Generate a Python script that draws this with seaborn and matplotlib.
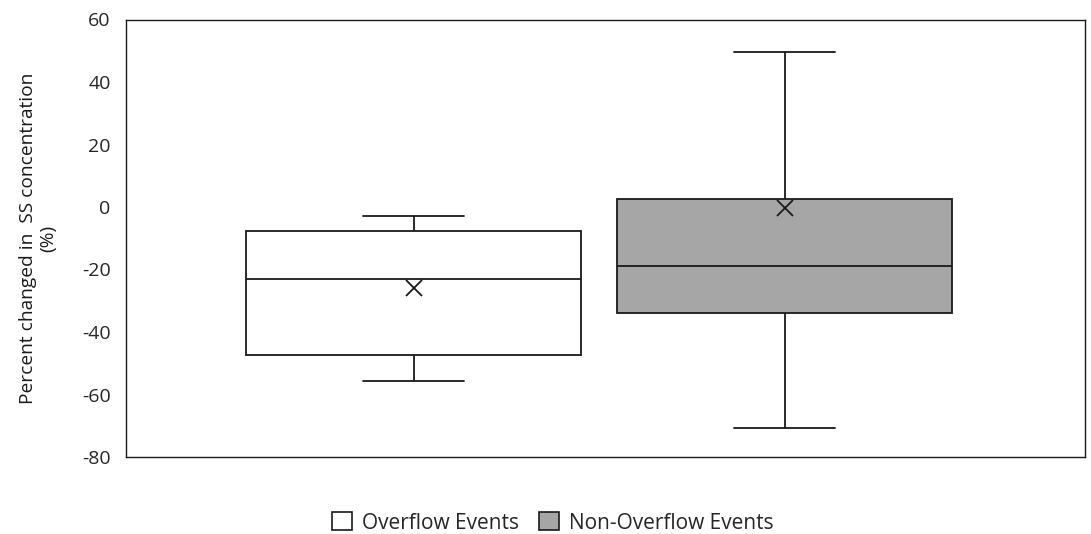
import matplotlib
matplotlib.use("Agg")
import matplotlib.pyplot as plt
from matplotlib.patches import Patch
import seaborn as sns
import pandas as pd

# Five-number summaries for each group (percent change in SS concentration)
categories = ["Overflow Events", "Non-Overflow Events"]
whisker_low = [-55.8, -70.6]
q1 = [-47.4, -34.0]
median = [-22.9, -18.9]
q3 = [-7.8, 2.5]
whisker_high = [-2.8, 49.7]
means = [-26.0, -0.3]
colors = ["#ffffff", "#a6a6a6"]
yticks = [-80, -60, -40, -20, 0, 20, 40, 60]

sns.set_theme(style="white")
plt.rcParams["font.family"] = ["Open Sans", "DejaVu Sans"]

# Long-form table of the summary points per group
rows = []
for i, cat in enumerate(categories):
    for v in (whisker_low[i], q1[i], median[i], q3[i], whisker_high[i]):
        rows.append({"group": cat, "value": v})
df = pd.DataFrame(rows)

fig = plt.figure(figsize=(10.91, 5.34), dpi=100)
ax = fig.add_axes([126 / 1091, 1 - 457 / 534, (1085 - 126) / 1091, (457 - 19.5) / 534])

sns.boxplot(
    data=df, x="group", y="value", hue="group", order=categories,
    palette=dict(zip(categories, colors)), legend=False,
    whis=(0, 100), width=0.903, linewidth=1.3, linecolor="#1a1a1a",
    capwidths=0.272, ax=ax,
)
sns.pointplot(
    x=categories, y=means, order=categories, color="#1a1a1a",
    markers="x", linestyles="none", errorbar=None,
    markersize=11, markeredgewidth=1.3, ax=ax,
)

ax.set_xlim(-0.776, 1.809)
ax.set_ylim(-80, 60)
ax.set_yticks(yticks)
ax.set_yticklabels([str(t) for t in yticks], fontsize=14, color="#262626")
ax.set_xticks([])
ax.set_xlabel("")
ax.set_ylabel("Percent changed in  SS concentration\n(%)", fontsize=13.8,
              color="#1a1a1a", linespacing=1.15)
ax.yaxis.set_label_coords(-(126 - 57) / 959, 0.5)
ax.tick_params(axis="y", length=0, pad=11)
for side in ax.spines.values():
    side.set_visible(True)
    side.set_color("#1a1a1a")
    side.set_linewidth(1.0)

handles = [Patch(facecolor=c, edgecolor="#1a1a1a", linewidth=1.2) for c in colors]
fig.legend(handles, categories, loc="center", bbox_to_anchor=(553 / 1091, 1 - 523 / 534),
           ncol=2, frameon=False, fontsize=15, handlelength=0.95, handleheight=0.95,
           handletextpad=0.5, columnspacing=0.95, labelcolor="#262626",
           borderpad=0.0, borderaxespad=0.0)

fig.savefig("out.png", dpi=100)
